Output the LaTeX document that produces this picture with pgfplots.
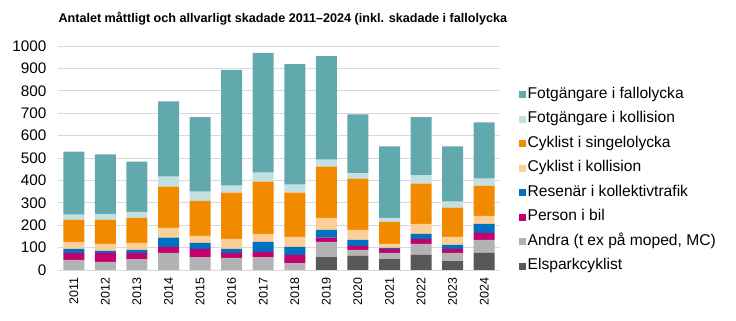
\documentclass[border=0pt]{standalone}
\usepackage{fontspec}
\setmainfont{Liberation Sans}
\usepackage{pgfplots}
\usepackage{pgfplotstable}
\pgfplotsset{compat=1.18}
\definecolor{cFall}{HTML}{62A9AD}
\definecolor{cFKoll}{HTML}{C3E1E3}
\definecolor{cSing}{HTML}{F28A00}
\definecolor{cCKoll}{HTML}{FDCF98}
\definecolor{cRes}{HTML}{0070C0}
\definecolor{cBil}{HTML}{C3006B}
\definecolor{cAndra}{HTML}{B3B3B3}
\definecolor{cEl}{HTML}{585858}
\definecolor{cGrid}{HTML}{D9D9D9}
\pgfplotstableread{
x El Andra Person Resenar CykKoll CykSingel FotKoll FotFall
0  0 45 30 19 32  98 23 282
1  0 36 40  9 32 107 27 265
2  0 49 27 14 31 112 27 224
3  0 76 27 41 44 184 45 336
4  0 58 36 27 31 157 41 332
5  0 54 22 18 45 206 32 516
6  0 58 23 45 35 234 40 534
7  0 31 36 36 45 197 36 538
8 58 68 18 35 54 229 31 462
9 63 27 18 27 44 229 23 264
10 49 27 18  5 18  98 18 319
11 67 50 22 22 45 180 36 260
12 40 36 18 18 36 130 27 247
13 76 59 31 40 36 135 31 251
}\datatable
\begin{document}
\begin{tikzpicture}
\useasboundingbox (0,0) rectangle (736bp,321bp);
\node[anchor=west, font=\fontsize{12.6bp}{15bp}\selectfont\bfseries] at (55bp,302bp) {Antalet måttligt och allvarligt skadade 2011–2024 (inkl. skadade i fallolycka};
\begin{axis}[
  at={(58bp,51bp)}, anchor=south west,
  scale only axis, width=442bp, height=224bp,
  ybar stacked, bar width=21bp,
  xmin=-0.5, xmax=13.5, ymin=0, ymax=1000,
  xtick=data,
  xticklabels={2011,2012,2013,2014,2015,2016,2017,2018,2019,2020,2021,2022,2023,2024},
  ytick={0,100,...,1000},
  ymajorgrids, grid style={cGrid, line width=0.8pt},
  axis x line*=bottom, axis y line*=left,
  y axis line style={draw=none},
  x axis line style={cGrid, line width=0.8pt},
  major tick style={draw=none},
  /pgf/number format/assume math mode=true,
  /pgf/number format/1000 sep={},
  yticklabel style={font=\fontsize{15.3bp}{18bp}\selectfont, anchor=east, xshift=-8bp},
  xticklabel style={font=\fontsize{12.5bp}{15bp}\selectfont, rotate=90, anchor=east, xshift=-4bp},
  reverse legend,
  legend cell align=left,
  legend style={at={(1.035,0.823)}, anchor=north west, draw=none, fill=none,
    font=\fontsize{15.6bp}{18bp}\selectfont, row sep=11bp,
    nodes={inner ysep=0pt, inner xsep=2bp, text height=10.5bp, text depth=3bp}},
  legend image code/.code={\fill[#1] (0bp,-3.5bp) rectangle (7bp,3.5bp);},
]
\addplot[fill=cEl, draw=none] table[x=x, y=El] {\datatable};
\addplot[fill=cAndra, draw=none] table[x=x, y=Andra] {\datatable};
\addplot[fill=cBil, draw=none] table[x=x, y=Person] {\datatable};
\addplot[fill=cRes, draw=none] table[x=x, y=Resenar] {\datatable};
\addplot[fill=cCKoll, draw=none] table[x=x, y=CykKoll] {\datatable};
\addplot[fill=cSing, draw=none] table[x=x, y=CykSingel] {\datatable};
\addplot[fill=cFKoll, draw=none] table[x=x, y=FotKoll] {\datatable};
\addplot[fill=cFall, draw=none] table[x=x, y=FotFall] {\datatable};
\legend{Elsparkcyklist, {Andra (t ex på moped, MC)}, Person i bil, Resenär i kollektivtrafik, Cyklist i kollision, Cyklist i singelolycka, Fotgängare i kollision, Fotgängare i fallolycka}
\end{axis}
\end{tikzpicture}
\end{document}
